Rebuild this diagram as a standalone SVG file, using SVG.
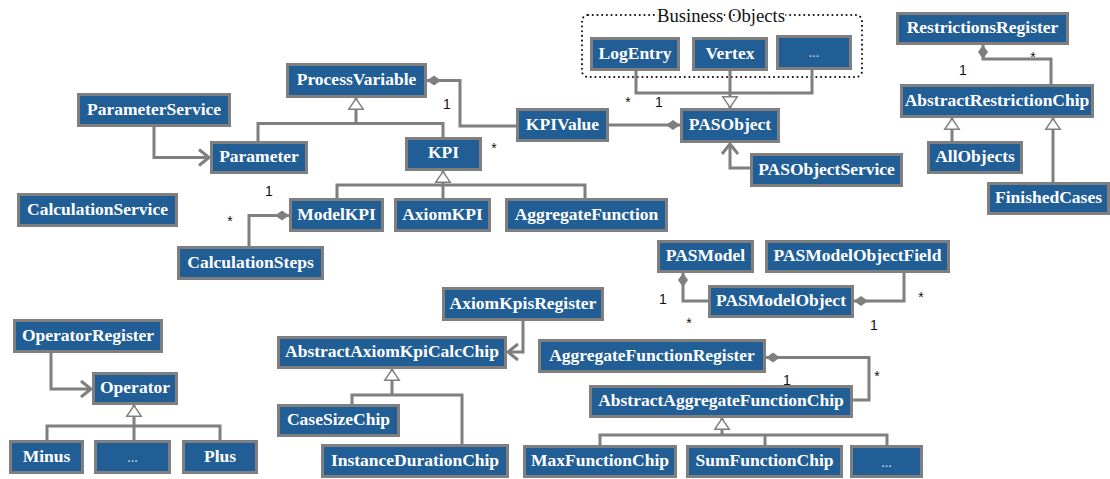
<svg xmlns="http://www.w3.org/2000/svg" width="1110" height="479" viewBox="0 0 1110 479">
<style>
.n rect{fill:#215E95;stroke:#7F7F7F;stroke-width:3}
.n text{fill:#fff;font-family:"Liberation Serif",serif;font-weight:bold;font-size:17.5px;text-anchor:middle}
.n text.d{font-weight:normal;font-size:14px;fill:#d5dde8}
.c path{fill:none;stroke:#7F7F7F;stroke-width:3}
.m{font-family:"Liberation Sans",sans-serif;font-size:14px;fill:#111;text-anchor:middle}
</style>
<defs>
<marker id="tri" viewBox="0 0 12 16" refX="12" refY="8" markerWidth="12" markerHeight="16" markerUnits="userSpaceOnUse" orient="auto" overflow="visible">
<path d="M0.8,0.8 L11.5,8 L0.8,15.2 Z" fill="#fff" stroke="#7F7F7F" stroke-width="1.5"/>
</marker>
<marker id="dia" viewBox="0 0 14 10" refX="14" refY="5" markerWidth="14" markerHeight="10" markerUnits="userSpaceOnUse" orient="auto" overflow="visible">
<path d="M0,5 L7,0 L14,5 L7,10 Z" fill="#7F7F7F"/>
</marker>
<marker id="arr" viewBox="0 0 11 18" refX="10" refY="9" markerWidth="11" markerHeight="18" markerUnits="userSpaceOnUse" orient="auto" overflow="visible">
<path d="M0,1 L10,9 L0,17" fill="none" stroke="#7F7F7F" stroke-width="3"/>
</marker>
</defs>
<rect width="1110" height="479" fill="#fff"/>

<g id="business-objects">
<rect x="582" y="15" width="280" height="62" rx="6" fill="none" stroke="#111" stroke-width="2" stroke-dasharray="0.1 4.6" stroke-linecap="round"/>
<text x="721" y="21.7" font-family="'Liberation Serif',serif" font-size="18" text-anchor="middle" fill="#111" stroke="#fff" stroke-width="3" paint-order="stroke" textLength="128" lengthAdjust="spacingAndGlyphs">Business Objects</text>
</g>

<g id="connectors" class="c">
<path d="M154,127 V157.5 H209" marker-end="url(#arr)"/>
<path d="M258,141 V123.5 H443 V137"/>
<path d="M356,123.5 V98" marker-end="url(#tri)"/>
<path d="M516,126 H460 V80.5 H427" marker-end="url(#dia)"/>
<path d="M609,125 H680" marker-end="url(#dia)"/>
<path d="M636,71 V93 H812 V70"/>
<path d="M730,71 V93"/>
<path d="M730,93 V108" marker-end="url(#tri)"/>
<path d="M750,168 H730 V144" marker-end="url(#arr)"/>
<path d="M337,198 V185 H585 V198"/>
<path d="M443,198 V185"/>
<path d="M443,185 V171" marker-end="url(#tri)"/>
<path d="M249,246 V215.5 H289" marker-end="url(#dia)"/>
<path d="M51,353 V389 H91" marker-end="url(#arr)"/>
<path d="M47,440 V426 H220 V440"/>
<path d="M134,440 V426"/>
<path d="M134,426 V405" marker-end="url(#tri)"/>
<path d="M523,321 V352 H508" marker-end="url(#arr)"/>
<path d="M352,404 V395 H462 V444"/>
<path d="M392,395 V369" marker-end="url(#tri)"/>
<path d="M853,400 H869 V357.5 H766" marker-end="url(#dia)"/>
<path d="M600,445 V435 H887 V445"/>
<path d="M765,445 V435"/>
<path d="M722,435 V418" marker-end="url(#tri)"/>
<path d="M708,301 H683 V273" marker-end="url(#dia)"/>
<path d="M904,273 V301 H854" marker-end="url(#dia)"/>
<path d="M1051,84 V59 H983 V45" marker-end="url(#dia)"/>
<path d="M952,141 V118" marker-end="url(#tri)"/>
<path d="M1053,182 V118" marker-end="url(#tri)"/>
</g>

<g id="multiplicities">
<text class="m" x="447" y="109">1</text>
<text class="m" x="494" y="153">*</text>
<text class="m" x="628" y="107">*</text>
<text class="m" x="659" y="107">1</text>
<text class="m" x="230" y="226">*</text>
<text class="m" x="269" y="196">1</text>
<text class="m" x="787" y="384.5">1</text>
<text class="m" x="877" y="381">*</text>
<text class="m" x="663" y="303.5">1</text>
<text class="m" x="689" y="328">*</text>
<text class="m" x="921" y="302">*</text>
<text class="m" x="874" y="330">1</text>
<text class="m" x="1033" y="62">*</text>
<text class="m" x="963" y="75">1</text>
</g>

<g id="ParameterService" class="n"><rect x="78.5" y="94.5" width="151" height="31"/><text x="154" y="114.5">ParameterService</text></g>
<g id="Parameter" class="n"><rect x="211.5" y="142.5" width="95" height="30"/><text x="259" y="162">Parameter</text></g>
<g id="ProcessVariable" class="n"><rect x="287.5" y="64.5" width="138" height="32"/><text x="356.5" y="85">ProcessVariable</text></g>
<g id="KPI" class="n"><rect x="406.5" y="138.5" width="74" height="31"/><text x="443.5" y="158">KPI</text></g>
<g id="KPIValue" class="n"><rect x="517.5" y="109.5" width="90" height="31"/><text x="562.5" y="129.5">KPIValue</text></g>
<g id="PASObject" class="n"><rect x="681.5" y="109.5" width="97" height="32"/><text x="730" y="130">PASObject</text></g>
<g id="LogEntry" class="n"><rect x="591.5" y="38.5" width="87" height="31"/><text x="635" y="58.5">LogEntry</text></g>
<g id="Vertex" class="n"><rect x="693.5" y="38.5" width="73" height="31"/><text x="730" y="58.5">Vertex</text></g>
<g id="BusinessMore" class="n"><rect x="777.5" y="36.5" width="73" height="32"/><text class="d" x="814" y="57">...</text></g>
<g id="PASObjectService" class="n"><rect x="751.5" y="154.5" width="150" height="31"/><text x="826.5" y="174.5">PASObjectService</text></g>
<g id="RestrictionsRegister" class="n"><rect x="897.5" y="13.5" width="170" height="30"/><text x="982.5" y="33">RestrictionsRegister</text></g>
<g id="AbstractRestrictionChip" class="n"><rect x="901.5" y="85.5" width="191" height="31"/><text x="997" y="105.5">AbstractRestrictionChip</text></g>
<g id="AllObjects" class="n"><rect x="928.5" y="142.5" width="93" height="30"/><text x="975" y="162">AllObjects</text></g>
<g id="FinishedCases" class="n"><rect x="988.5" y="183.5" width="120" height="30"/><text x="1048.5" y="203">FinishedCases</text></g>
<g id="CalculationService" class="n"><rect x="18.5" y="194.5" width="158" height="31"/><text x="97.5" y="214.5">CalculationService</text></g>
<g id="ModelKPI" class="n"><rect x="290.5" y="199.5" width="92" height="31"/><text x="336.5" y="219.5">ModelKPI</text></g>
<g id="AxiomKPI" class="n"><rect x="395.5" y="199.5" width="94" height="31"/><text x="442.5" y="219.5">AxiomKPI</text></g>
<g id="AggregateFunction" class="n"><rect x="506.5" y="199.5" width="160" height="31"/><text x="586.5" y="219.5">AggregateFunction</text></g>
<g id="CalculationSteps" class="n"><rect x="178.5" y="247.5" width="144" height="31"/><text x="250.5" y="267.5">CalculationSteps</text></g>
<g id="PASModel" class="n"><rect x="658.5" y="241.5" width="94" height="30"/><text x="705.5" y="261">PASModel</text></g>
<g id="PASModelObjectField" class="n"><rect x="766.5" y="241.5" width="182" height="30"/><text x="857.5" y="261">PASModelObjectField</text></g>
<g id="PASModelObject" class="n"><rect x="709.5" y="286.5" width="143" height="30"/><text x="781" y="306">PASModelObject</text></g>
<g id="AxiomKpisRegister" class="n"><rect x="443.5" y="288.5" width="159" height="31"/><text x="523" y="308.5">AxiomKpisRegister</text></g>
<g id="AbstractAxiomKpiCalcChip" class="n"><rect x="278.5" y="337.5" width="227" height="30"/><text x="392" y="357">AbstractAxiomKpiCalcChip</text></g>
<g id="OperatorRegister" class="n"><rect x="14.5" y="320.5" width="147" height="31"/><text x="88" y="340.5">OperatorRegister</text></g>
<g id="Operator" class="n"><rect x="93.5" y="373.5" width="83" height="30"/><text x="135" y="393">Operator</text></g>
<g id="AggregateFunctionRegister" class="n"><rect x="539.5" y="340.5" width="225" height="31"/><text x="652" y="360.5">AggregateFunctionRegister</text></g>
<g id="AbstractAggregateFunctionChip" class="n"><rect x="590.5" y="386.5" width="261" height="30"/><text x="721" y="406">AbstractAggregateFunctionChip</text></g>
<g id="CaseSizeChip" class="n"><rect x="278.5" y="405.5" width="120" height="30"/><text x="338.5" y="425">CaseSizeChip</text></g>
<g id="InstanceDurationChip" class="n"><rect x="322.5" y="445.5" width="185" height="31"/><text x="415" y="465.5">InstanceDurationChip</text></g>
<g id="Minus" class="n"><rect x="10.5" y="441.5" width="72" height="31"/><text x="46.5" y="461.5">Minus</text></g>
<g id="OperatorMore" class="n"><rect x="95.5" y="441.5" width="74" height="31"/><text class="d" x="132.5" y="462">...</text></g>
<g id="Plus" class="n"><rect x="183.5" y="441.5" width="73" height="31"/><text x="220" y="461.5">Plus</text></g>
<g id="MaxFunctionChip" class="n"><rect x="524.5" y="446.5" width="151" height="30"/><text x="600" y="466">MaxFunctionChip</text></g>
<g id="SumFunctionChip" class="n"><rect x="687.5" y="446.5" width="154" height="30"/><text x="764.5" y="466">SumFunctionChip</text></g>
<g id="FunctionMore" class="n"><rect x="851.5" y="446.5" width="70" height="30"/><text class="d" x="886.5" y="467">...</text></g>
</svg>
